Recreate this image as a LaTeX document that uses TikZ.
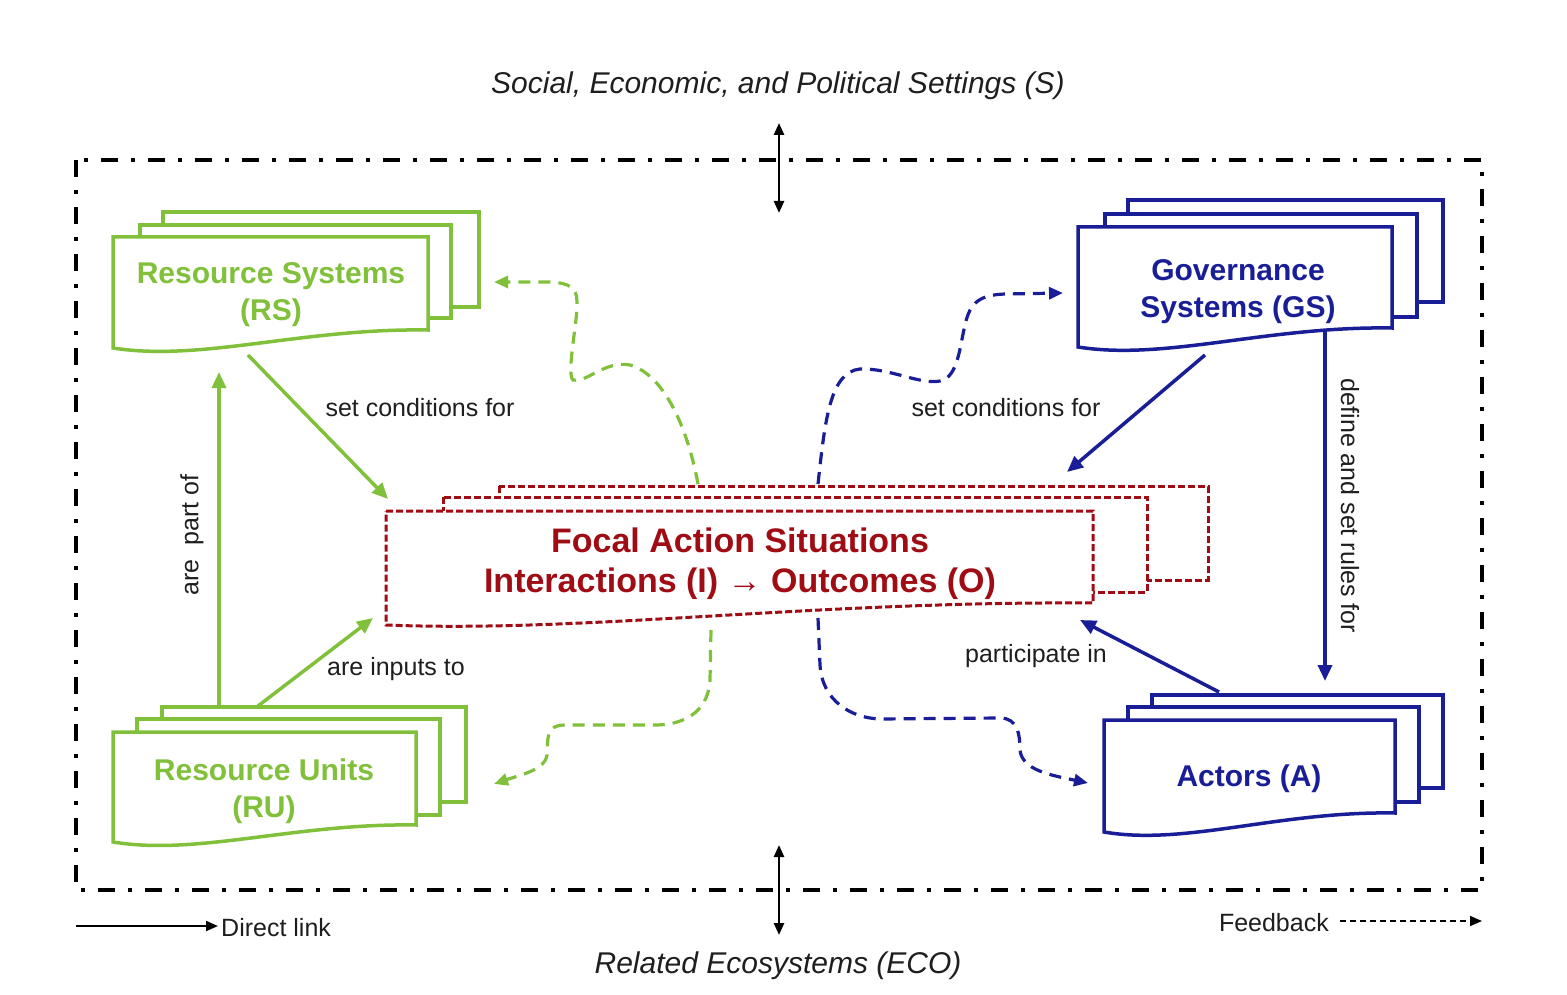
\documentclass[tikz,border=0pt]{standalone}
\usepackage{fontspec}
\setmainfont{Liberation Sans}
\usetikzlibrary{arrows.meta}
\definecolor{grn}{RGB}{128,192,58}
\definecolor{blu}{RGB}{25,30,150}
\definecolor{dred}{RGB}{160,12,20}
\definecolor{ink}{RGB}{30,30,30}
\newcommand\docfront[7]{%
  \draw[#1] (#2,#3) -- (#4,#3) -- (#4,#6)
    .. controls ({#2+0.6*(#4-#2)},{#6-2}) and ({#2+0.28*(#4-#2)},{#5+#7}) .. (#2,#5) -- cycle;}
\tikzset{
  frame/.style={line width=4pt, dash pattern=on 17pt off 13pt on 4pt off 13pt, draw=black},
  gbox/.style={draw=grn, line width=3.5pt, fill=white},
  bbox/.style={draw=blu, line width=3.5pt, fill=white},
  rbox/.style={draw=dred, line width=3pt, fill=white, dash pattern=on 7pt off 3pt},
  gtext/.style={text=grn, font=\fontsize{30}{37}\selectfont\bfseries, align=center},
  btext/.style={text=blu, font=\fontsize{30}{37}\selectfont\bfseries, align=center},
  rtext/.style={text=dred, font=\fontsize{34}{40}\selectfont\bfseries, align=center},
  lbl/.style={text=ink, font=\fontsize{25}{30}\selectfont},
  hdr/.style={text=ink, font=\fontsize{30}{34}\selectfont\itshape},
  garrow/.style={draw=grn, line width=3.5pt, -{Triangle[length=16pt,width=14pt]}},
  barrow/.style={draw=blu, line width=3.5pt, -{Triangle[length=16pt,width=14pt]}},
  gfeed/.style={draw=grn, line width=3.2pt, dash pattern=on 12pt off 8pt, -{Triangle[length=14pt,width=12pt]}},
  bfeed/.style={draw=blu, line width=3.2pt, dash pattern=on 12pt off 8pt, -{Triangle[length=14pt,width=12pt]}},
  karrow/.style={draw=black, line width=2.5pt, {Triangle[length=12pt,width=10pt]}-{Triangle[length=12pt,width=10pt]}},
}
\begin{document}
\begin{tikzpicture}[x=1pt,y=-1pt]
\useasboundingbox (0,0) rectangle (1567,995);

% outer frame
\draw[frame] (76,160) rectangle (1482,890);

% header / footer
\node[hdr] (set) at (778,86) {Social, Economic, and Political Settings (S)};
\node[hdr] (eco) at (778,966) {Related Ecosystems (ECO)};
\coordinate (s1) at (779,123); \coordinate (s2) at (779,213);
\coordinate (e1) at (779,845); \coordinate (e2) at (779,935);
\draw[karrow] (s1) -- (s2);
\draw[karrow] (e1) -- (e2);

% Resource Systems stack
\draw[gbox] (163,212) rectangle (479,307);
\draw[gbox] (140,225) rectangle (451,318);
\docfront{gbox}{113}{237}{428}{348}{330}{14}
\node[gtext] (rs) at (271,295) {Resource Systems\\(RS)};

% Resource Units stack
\draw[gbox] (162,707) rectangle (466,802);
\draw[gbox] (137,719) rectangle (440,815);
\docfront{gbox}{113}{732}{416}{842}{825}{14}
\node[gtext] (ru) at (264,791) {Resource Units\\(RU)};

% Governance Systems stack
\draw[bbox] (1128,200) rectangle (1443,302);
\draw[bbox] (1105,214) rectangle (1417,317);
\docfront{bbox}{1078}{227}{1392}{347}{328}{14}
\node[btext] (gs) at (1238,292) {Governance\\Systems (GS)};

% Actors stack
\draw[bbox] (1152,695) rectangle (1443,788);
\draw[bbox] (1128,707) rectangle (1419,802);
\docfront{bbox}{1104}{720}{1395}{832}{813}{14}
\node[btext] (a) at (1249,779) {Actors (A)};

% Focal action situations stack
\draw[rbox] (499,486) rectangle (1208,580);
\draw[rbox] (443,497) rectangle (1147,592);
\docfront{rbox}{386}{511}{1093}{625}{603}{8}
\node[rtext] (fas) at (740,564) {Focal Action Situations\\Interactions (I) → Outcomes (O)};

% connector end points
\coordinate (rs-o) at (248,355);  \coordinate (fas-rs) at (388,499);
\coordinate (ru-o1) at (258,706); \coordinate (fas-ru) at (373,618);
\coordinate (ru-o2) at (219,706); \coordinate (rs-i) at (219,372);
\coordinate (gs-o1) at (1205,355); \coordinate (fas-gs) at (1067,472);
\coordinate (gs-o2) at (1325,330); \coordinate (a-i) at (1325,681);
\coordinate (a-o) at (1219,692);  \coordinate (fas-a) at (1080,620);

\draw[garrow] (rs-o) -- (fas-rs);
\draw[garrow] (ru-o1) -- (fas-ru);
\draw[garrow] (ru-o2) -- (rs-i);
\draw[barrow] (gs-o1) -- (fas-gs);
\draw[barrow] (gs-o2) -- (a-i);
\draw[barrow] (a-o) -- (fas-a);

\node[lbl] (l1) at (420,408) {set conditions for};
\node[lbl] (l2) at (396,669) {are inputs to};
\node[lbl, rotate=90] (l3) at (192,535) {are \ part of};
\node[lbl] (l4) at (1006,408) {set conditions for};
\node[lbl, rotate=-90] (l5) at (1350,506) {define and set rules for};
\node[lbl] (l6) at (1036,656) {participate in};

% feedback curves
\coordinate (f1s) at (698,484); \coordinate (f1e) at (494,282);
\draw[gfeed] (f1s) .. controls (688,430) and (665,375) .. (630,365)
  .. controls (605,360) and (585,384) .. (573,380)
  .. controls (566,374) and (578,320) .. (577,302)
  .. controls (577,288) and (570,283) .. (550,282) -- (f1e);

\coordinate (f2s) at (711,630); \coordinate (f2e) at (494,784);
\draw[gfeed] (f2s) -- (710,680) .. controls (708,715) and (680,725) .. (655,725)
  -- (565,725) .. controls (545,725) and (548,740) .. (547,755)
  .. controls (545,770) and (520,775) .. (f2e);

\coordinate (f3s) at (818,484); \coordinate (f3e) at (1063,293);
\draw[bfeed] (f3s) .. controls (825,420) and (830,372) .. (860,369)
  .. controls (890,368) and (920,385) .. (940,381)
  .. controls (958,378) and (960,345) .. (965,325)
  .. controls (970,302) and (980,295) .. (1005,294) -- (f3e);

\coordinate (f4s) at (818,618); \coordinate (f4e) at (1088,783);
\draw[bfeed] (f4s) -- (820,665) .. controls (822,700) and (850,718) .. (880,719)
  -- (1000,718) .. controls (1018,718) and (1020,735) .. (1020,750)
  .. controls (1022,770) and (1050,775) .. (f4e);

% legend
\coordinate (dl1) at (76,926); \coordinate (dl2) at (218,926);
\draw[line width=2pt, -{Triangle[length=12pt,width=10pt]}] (dl1) -- (dl2);
\node[lbl, anchor=west, inner sep=1pt] (dlt) at (220,928) {Direct link};
\node[lbl, anchor=east, inner sep=1pt] (fbt) at (1330,923) {Feedback};
\coordinate (fb1) at (1340,921); \coordinate (fb2) at (1482,921);
\draw[line width=1.8pt, dash pattern=on 6pt off 4pt, -{Triangle[length=12pt,width=10pt]}] (fb1) -- (fb2);
\end{tikzpicture}
\end{document}
